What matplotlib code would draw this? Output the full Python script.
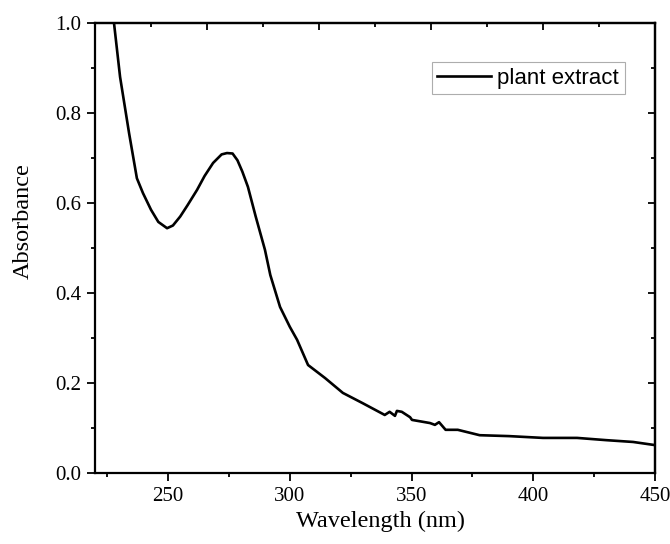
import numpy as np
import matplotlib
matplotlib.use('Agg')
import matplotlib.pyplot as plt
from matplotlib.ticker import MultipleLocator

# spectrum
wavelength = [226, 227.8, 230.3, 234, 237.2, 239.7, 243, 246, 249.6, 252, 255, 258,
              261.9, 265, 268.5, 272, 274.2, 276.5, 278.5, 280.5, 282.8, 286, 289.8,
              292, 296, 300, 303, 307.5, 314.5, 321.8, 330, 339, 341, 343.2, 344, 346,
              349.4, 350.2, 357.6, 359.6, 361.3, 364, 369, 378, 390, 404, 418, 430,
              441, 450]
absorbance = [1.06, 1.0, 0.88, 0.755, 0.655, 0.622, 0.585, 0.558, 0.544, 0.55, 0.57,
              0.595, 0.629, 0.66, 0.689, 0.708, 0.711, 0.71, 0.695, 0.67, 0.636, 0.57,
              0.496, 0.44, 0.369, 0.325, 0.296, 0.24, 0.211, 0.178, 0.155, 0.129, 0.136,
              0.127, 0.138, 0.136, 0.124, 0.118, 0.111, 0.107, 0.113, 0.096, 0.096,
              0.084, 0.082, 0.078, 0.078, 0.073, 0.069, 0.062]
series_label = 'plant extract'

plt.rcParams['font.family'] = ['Liberation Serif', 'DejaVu Serif']

fig = plt.figure(figsize=(6.7, 5.44), dpi=100)
ax = fig.add_axes([0.1418, 0.1305, 0.8358, 0.8272])

ax.plot(wavelength, absorbance, color='black', lw=1.9, label=series_label)
ax.set_xlim(220, 450)
ax.set_ylim(0, 1.0)

ax.xaxis.set_major_locator(MultipleLocator(50))
ax.xaxis.set_minor_locator(MultipleLocator(25))
ax.yaxis.set_major_locator(MultipleLocator(0.2))
ax.yaxis.set_minor_locator(MultipleLocator(0.1))
ax.yaxis.set_major_formatter(matplotlib.ticker.FormatStrFormatter('%.1f'))

for sp in ax.spines.values():
    sp.set_linewidth(1.6)

ax.tick_params(which='major', direction='out', length=6, width=1.3, labelsize=15, pad=4)
ax.tick_params(which='minor', direction='out', length=3.2, width=1.3)
ax.tick_params(which='both', top=False, right=False)

# top axis (its own tick spacing, inward)
top = ax.secondary_xaxis('top')
top.set_xticks(np.linspace(220, 450, 6))
top.set_xticks(np.linspace(243, 427, 5), minor=True)
top.tick_params(which='major', direction='in', length=5, width=1.3, labeltop=False)
top.tick_params(which='minor', direction='in', length=3, width=1.3)
top.spines['top'].set_linewidth(1.6)

# right axis mirrors the left one, inward
right = ax.secondary_yaxis('right')
right.yaxis.set_major_locator(MultipleLocator(0.2))
right.yaxis.set_minor_locator(MultipleLocator(0.1))
right.tick_params(which='major', direction='in', length=5, width=1.3, labelright=False)
right.tick_params(which='minor', direction='in', length=3, width=1.3)
right.spines['right'].set_linewidth(1.6)

ax.set_xlabel('Wavelength (nm)', fontsize=17.5)
ax.set_ylabel('Absorbance', fontsize=17.5)
ax.xaxis.set_label_coords(0.509, -0.083)
ax.yaxis.set_label_coords(-0.11, 0.56)

leg = ax.legend(loc='upper right', bbox_to_anchor=(0.946, 0.913),
                prop={'family': 'Liberation Sans', 'size': 16},
                fancybox=False, handlelength=2.4, handletextpad=0.3,
                borderpad=0.25, borderaxespad=0)
leg.get_frame().set_edgecolor('#999999')
leg.get_frame().set_linewidth(0.8)

fig.savefig('out.png', dpi=100)
